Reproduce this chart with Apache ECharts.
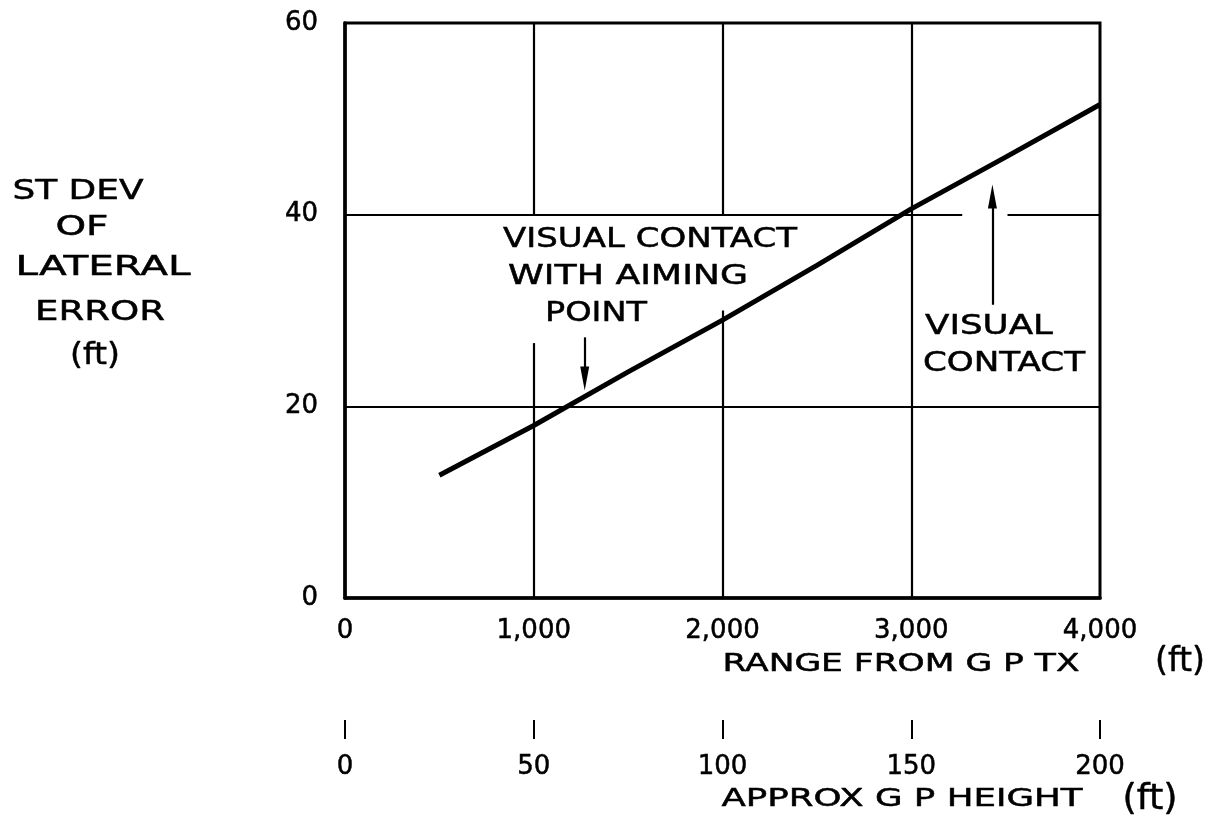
<!DOCTYPE html>
<html><head><meta charset="utf-8">
<script src="https://cdn.jsdelivr.net/npm/echarts@6/dist/echarts.min.js"></script>
<style>html,body{margin:0;padding:0;background:#fff}#c{width:1211px;height:821px}</style>
</head><body><div id="c"></div>
<script>
// ---- data ----
const rangeFt = [500, 1000, 1500, 2000, 2500, 3000, 3500, 4000];
const lateralErrorFt = [12.8, 18.0, 23.6, 29.0, 34.7, 40.6, 46.0, 51.5];
const rangeTicks = [0, 1000, 2000, 3000, 4000];
const heightTicks = [0, 50, 100, 150, 200];
const errorTicks = [0, 20, 40, 60];
const gridSegments = [
  [[1000, 60], [1000, 40]], [[1000, 26.6], [1000, 0]],
  [[2000, 60], [2000, 40]], [[2000, 30.0], [2000, 0]],
  [[3000, 60], [3000, 0]],
  [[0, 40], [3270, 40]], [[3510, 40], [4000, 40]],
  [[0, 20], [4000, 20]]
];
const arrows = [
  [[1270, 27.2], [1270, 22.9]],
  [[3430, 30.6], [3430, 41.9]]
];
const yTitleLines = ['ST DEV', 'OF', 'LATERAL', 'ERROR', '(ft)'];
const annotationLines = ['VISUAL CONTACT', 'WITH AIMING', 'POINT', 'VISUAL', 'CONTACT'];
const xTitle = 'RANGE FROM G P TX';
const heightTitle = 'APPROX G P HEIGHT';
const unitText = '(ft)';

// ---- layout helpers ----
const FONT = '"DejaVu Sans"';
const mctx = document.createElement('canvas').getContext('2d');
function wideText(text, cx, cy, targetW, size) {
  mctx.font = size + 'px ' + FONT;
  const w = mctx.measureText(text).width || 1;
  return {
    type: 'text', x: cx, y: cy, scaleX: targetW / w, z: 100,
    style: { text: text, fontSize: size, fontFamily: 'DejaVu Sans', fill: '#000',
      stroke: '#000', lineWidth: 0.5, align: 'center', verticalAlign: 'middle' }
  };
}

const graphics = [
  wideText(yTitleLines[0], 78, 192, 131, 27),
  wideText(yTitleLines[1], 82, 228, 53, 27),
  wideText(yTitleLines[2], 103, 268, 175, 27),
  wideText(yTitleLines[3], 100, 313, 130, 27),
  wideText(yTitleLines[4], 95, 356, 50, 31),
  wideText(annotationLines[0], 650, 240, 294, 27),
  wideText(annotationLines[1], 628, 277, 240, 27),
  wideText(annotationLines[2], 596, 314, 102, 27),
  wideText(annotationLines[3], 989, 327, 128, 27),
  wideText(annotationLines[4], 1004, 364, 162, 27),
  wideText(xTitle, 901, 665, 357, 24),
  wideText(unitText, 1180, 662, 50, 34),
  wideText(heightTitle, 902, 799, 361, 25),
  wideText(unitText, 1150, 800, 55, 36)
];

const labelStyle = { color: '#000', fontSize: 26, fontFamily: 'DejaVu Sans', textBorderColor: '#000', textBorderWidth: 0.5 };

const chart = echarts.init(document.getElementById('c'));
chart.setOption({
  animation: false,
  backgroundColor: '#fff',
  grid: { left: 345, right: 111, top: 23, bottom: 223, show: true, borderColor: '#000', borderWidth: 3, containLabel: false },
  xAxis: [
    {
      type: 'value', min: rangeTicks[0], max: rangeTicks[rangeTicks.length - 1], interval: rangeTicks[1] - rangeTicks[0],
      axisLine: { show: true, lineStyle: { color: '#000', width: 3.5 } },
      axisTick: { show: false }, splitLine: { show: false },
      axisLabel: Object.assign({ margin: 20, formatter: v => v.toLocaleString('en-US') }, labelStyle)
    },
    {
      type: 'value', position: 'bottom', offset: 122,
      min: heightTicks[0], max: heightTicks[heightTicks.length - 1], interval: heightTicks[1] - heightTicks[0],
      axisLine: { show: false },
      axisTick: { show: true, length: 19, lineStyle: { color: '#000', width: 2 } },
      splitLine: { show: false },
      axisLabel: Object.assign({ margin: 34 }, labelStyle)
    }
  ],
  yAxis: {
    type: 'value', min: errorTicks[0], max: errorTicks[errorTicks.length - 1], interval: errorTicks[1] - errorTicks[0],
    axisLine: { show: true, lineStyle: { color: '#000', width: 3.5 } },
    axisTick: { show: false }, splitLine: { show: false },
    axisLabel: Object.assign({ margin: 27 }, labelStyle)
  },
  series: [
    {
      type: 'line', name: 'grid', xAxisIndex: 0, data: [], silent: true,
      markLine: {
        silent: true, symbol: ['none', 'none'], label: { show: false },
        lineStyle: { color: '#000', width: 2.2, type: 'solid' },
        data: gridSegments.map(s => [{ coord: s[0] }, { coord: s[1] }])
      }
    },
    {
      type: 'line', name: 'arrows', xAxisIndex: 0, data: [], silent: true,
      markLine: {
        silent: true, symbol: ['none', 'path://M5,0 L10,24 L0,24 Z'], symbolSize: [9, 24], label: { show: false },
        lineStyle: { color: '#000', width: 2.2, type: 'solid' },
        data: arrows.map(s => [{ coord: s[0] }, { coord: s[1] }])
      }
    },
    {
      type: 'line', name: 'St dev of lateral error', xAxisIndex: 0,
      data: rangeFt.map((x, i) => [x, lateralErrorFt[i]]),
      showSymbol: false, symbol: 'none',
      lineStyle: { color: '#000', width: 5 }
    }
  ],
  graphic: graphics
});
</script></body></html>
